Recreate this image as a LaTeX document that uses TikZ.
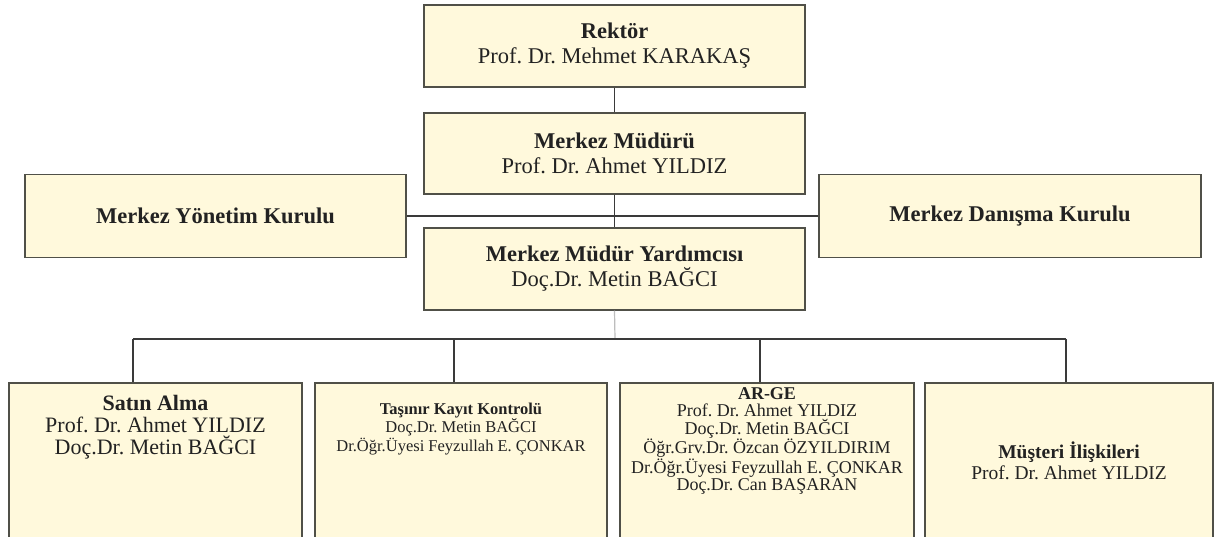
\documentclass[tikz,border=0pt]{standalone}
\usepackage{fontspec}
\setmainfont{Liberation Serif}
\frenchspacing
\definecolor{boxfill}{HTML}{FFF9DC}
\definecolor{boxdraw}{HTML}{505048}
\definecolor{txtc}{HTML}{222222}
\definecolor{linec}{HTML}{3A3A3A}
\definecolor{lightline}{HTML}{BDBDBD}
\tikzset{
  box/.style={draw=boxdraw, line width=1.4pt, fill=boxfill, inner sep=0pt, text=txtc, align=center, font=\fontsize{22.5}{25}\selectfont},
  txt/.style={inner sep=0pt, text=txtc, align=center},
  conn/.style={draw=linec, line width=1.2pt},
  lconn/.style={draw=lightline, line width=1.2pt}
}
\begin{document}
\begin{tikzpicture}[x=1pt,y=-1pt]
\useasboundingbox (0,0) rectangle (1215,536);
\clip (0,0) rectangle (1215,536);
\fill[white] (0,0) rectangle (1215,536);
% top boxes
\node[box, minimum width=381pt, minimum height=82pt] (rek) at (614.5,46) {\textbf{Rektör}\\Prof. Dr. Mehmet KARAKAŞ};
\node[box, minimum width=381pt, minimum height=81pt] (mud) at (614.5,153.5) {\textbf{Merkez Müdürü}\\Prof. Dr. Ahmet YILDIZ};
\node[box, minimum width=381pt, minimum height=82pt] (yrd) at (614.5,269) {\textbf{Merkez Müdür Yardımcısı}\\Doç.Dr. Metin BAĞCI};
\node[box, minimum width=381pt, minimum height=83pt] (myk) at (215.5,216) {\textbf{Merkez Yönetim Kurulu}};
\node[box, minimum width=382pt, minimum height=83pt] (mdk) at (1010,216) {\textbf{Merkez Danışma Kurulu}};
% connectors top
\draw[conn] (rek.south) -- (mud.north);
\draw[conn] (myk.east) -- (mdk.west);
\draw[conn] (mud.south) -- (yrd.north);
% bottom boxes
\node[box, minimum width=293pt, minimum height=180pt] (b1) at (155.5,473) {};
\node[box, minimum width=292pt, minimum height=180pt] (b2) at (461,473) {};
\node[box, minimum width=294pt, minimum height=180pt] (b3) at (767,473) {};
\node[box, minimum width=288pt, minimum height=180pt] (b4) at (1069,473) {};
% bus
\coordinate (bus) at (615,339);
\coordinate (d1) at (133,339);
\coordinate (d2) at (454,339);
\coordinate (d3) at (760,339);
\coordinate (d4) at (1066,339);
\draw[lconn] (yrd.south) -- (bus);
\draw[conn] (d1) -- (d4);
\draw[conn] (d1) -- (d1 |- b1.north);
\draw[conn] (d2) -- (d2 |- b2.north);
\draw[conn] (d3) -- (d3 |- b3.north);
\draw[conn] (d4) -- (d4 |- b4.north);
% texts
\node[txt, font=\fontsize{22}{21.8}\selectfont] (t1) at (155.5,427) {\textbf{Satın Alma}\\Prof. Dr. Ahmet YILDIZ\\Doç.Dr. Metin BAĞCI};
\node[txt, font=\fontsize{16.5}{18.5}\selectfont] (t2) at (461,429) {\textbf{Taşınır Kayıt Kontrolü}\\Doç.Dr. Metin BAĞCI\\Dr.Öğr.Üyesi Feyzullah E. ÇONKAR};
\node[txt, font=\fontsize{18}{17.6}\selectfont] (t3) at (767,441) {\textbf{AR-GE}\\Prof. Dr. Ahmet YILDIZ\\Doç.Dr. Metin BAĞCI\\Öğr.Grv.Dr. Özcan ÖZYILDIRIM\\Dr.Öğr.Üyesi Feyzullah E. ÇONKAR\\Doç.Dr. Can BAŞARAN};
\node[txt, font=\fontsize{19.5}{21}\selectfont] (t4) at (1069,461) {\textbf{Müşteri İlişkileri}\\Prof. Dr. Ahmet YILDIZ};
\end{tikzpicture}
\end{document}
